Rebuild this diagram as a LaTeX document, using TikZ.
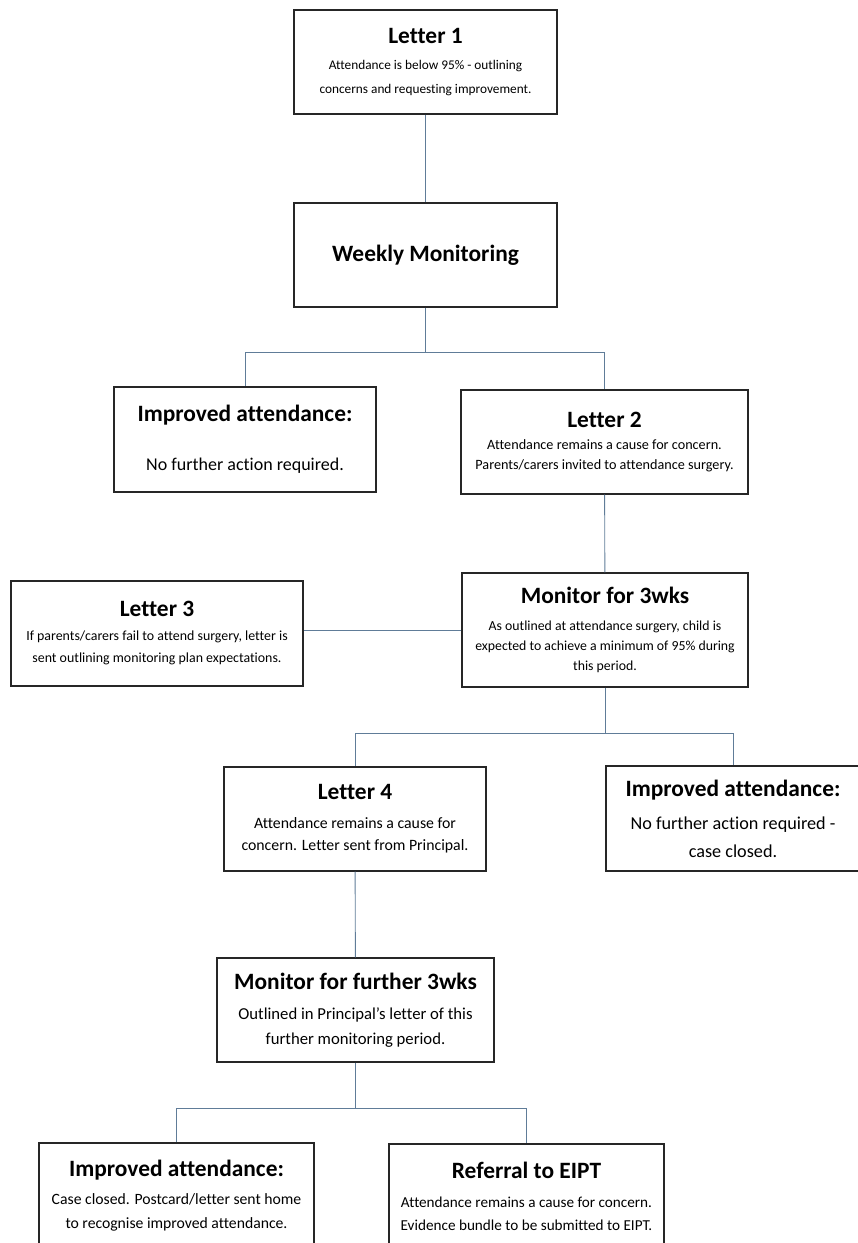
\documentclass[tikz,border=0pt]{standalone}
\usepackage{fontspec}
\setmainfont{Carlito}[Ligatures=NoCommon]
\usetikzlibrary{positioning}

\definecolor{linkblue}{RGB}{96,124,152}
\newcommand{\stagehead}{\fontsize{23.4}{28}\selectfont\bfseries}

\begin{document}
\begin{tikzpicture}[
    x=1pt, y=-1pt,
    % Node styles
    stage/.style={
        rectangle, draw=black!85, line width=1.3pt, fill=white,
        align=center, inner sep=0pt
    },
    link/.style={linkblue, line width=0.9pt}
]

\useasboundingbox (0,0) rectangle (858,1243);
\clip (0,0) rectangle (858,1243);

% ============================================================
% Boxes, top to bottom
% ============================================================

% -- First letter and monitoring --
\node[stage, minimum width=263pt, minimum height=104pt,
      font=\fontsize{13.3}{24}\selectfont] (letter1) at (425.5,62)
    {{\stagehead Letter 1}\\[2pt]Attendance is below 95\% - outlining\\concerns and requesting improvement.};

\node[stage, minimum width=263pt, minimum height=104pt,
      font=\stagehead] (weekly) at (425.5,255) {Weekly Monitoring};

% -- First split --
\node[stage, minimum width=262pt, minimum height=105pt,
      font=\fontsize{18}{22}\selectfont] (improvedA) at (245,439.5)
    {{\stagehead Improved attendance:}\\[27pt]No further action required.};

\node[stage, minimum width=287pt, minimum height=104pt,
      font=\fontsize{14.2}{20}\selectfont] (letter2) at (604.5,442)
    {{\stagehead Letter 2}\\[2pt]Attendance remains a cause for concern.\\Parents/carers invited to attendance surgery.};

% -- Three week monitoring --
\node[stage, minimum width=286pt, minimum height=114pt,
      font=\fontsize{13.8}{20}\selectfont] (monitor) at (605,630)
    {{\stagehead Monitor for 3wks}\\[7pt]As outlined at attendance surgery, child is\\expected to achieve a minimum of 95\% during\\this period.};

\node[stage, minimum width=292pt, minimum height=105pt,
      font=\fontsize{13.9}{22}\selectfont] (letter3) at (157,633.5)
    {{\stagehead Letter 3}\\[2pt]If parents/carers fail to attend surgery, letter is\\sent outlining monitoring plan expectations.};

% -- Second split --
\node[stage, minimum width=262pt, minimum height=104pt,
      font=\fontsize{15.8}{22}\selectfont] (letter4) at (355,819)
    {{\stagehead Letter 4}\\[7pt]Attendance remains a cause for\\concern. Letter sent from Principal.};

\node[stage, minimum width=254pt, minimum height=105pt,
      font=\fontsize{18.2}{28}\selectfont] (improvedB) at (733,818.5)
    {{\stagehead Improved attendance:}\\[5pt]No further action required -\\case closed.};

% -- Further monitoring --
\node[stage, minimum width=277pt, minimum height=104pt,
      font=\fontsize{16.7}{25}\selectfont] (monitorF) at (355.5,1010)
    {{\stagehead Monitor for further 3wks}\\[5pt]Outlined in Principal’s letter of this\\further monitoring period.};

% -- Final split --
\node[stage, minimum width=275pt, minimum height=105pt,
      font=\fontsize{15.7}{24}\selectfont] (improvedC) at (176.5,1195.5)
    {{\stagehead Improved attendance:}\\[4pt]Case closed. Postcard/letter sent home\\to recognise improved attendance.};

\node[stage, minimum width=275pt, minimum height=105pt,
      font=\fontsize{15.2}{23}\selectfont] (referral) at (526.5,1196.5)
    {{\stagehead Referral to EIPT}\\[6pt]Attendance remains a cause for concern.\\Evidence bundle to be submitted to EIPT.};

% ============================================================
% Connectors
% ============================================================

\coordinate[below=45pt of weekly.south] (fork1);
\coordinate[below=46pt of monitor.south] (fork2);
\coordinate[below=46pt of monitorF.south] (fork3);

\draw[link] (letter1) -- (weekly);

\draw[link] (weekly.south) -- (fork1) -| (improvedA.north);
\draw[link] (fork1) -| (letter2.north);

\draw[link] (letter2) -- (monitor);
\draw[link] (monitor.west) -- (monitor.west -| letter3.east);

\draw[link] (monitor.south) -- (fork2) -| (letter4.north);
\draw[link] (fork2) -| (improvedB.north);

\draw[link] (letter4) -- (monitorF);

\draw[link] (monitorF.south) -- (fork3) -| (improvedC.north);
\draw[link] (fork3) -| (referral.north);

\end{tikzpicture}
\end{document}
